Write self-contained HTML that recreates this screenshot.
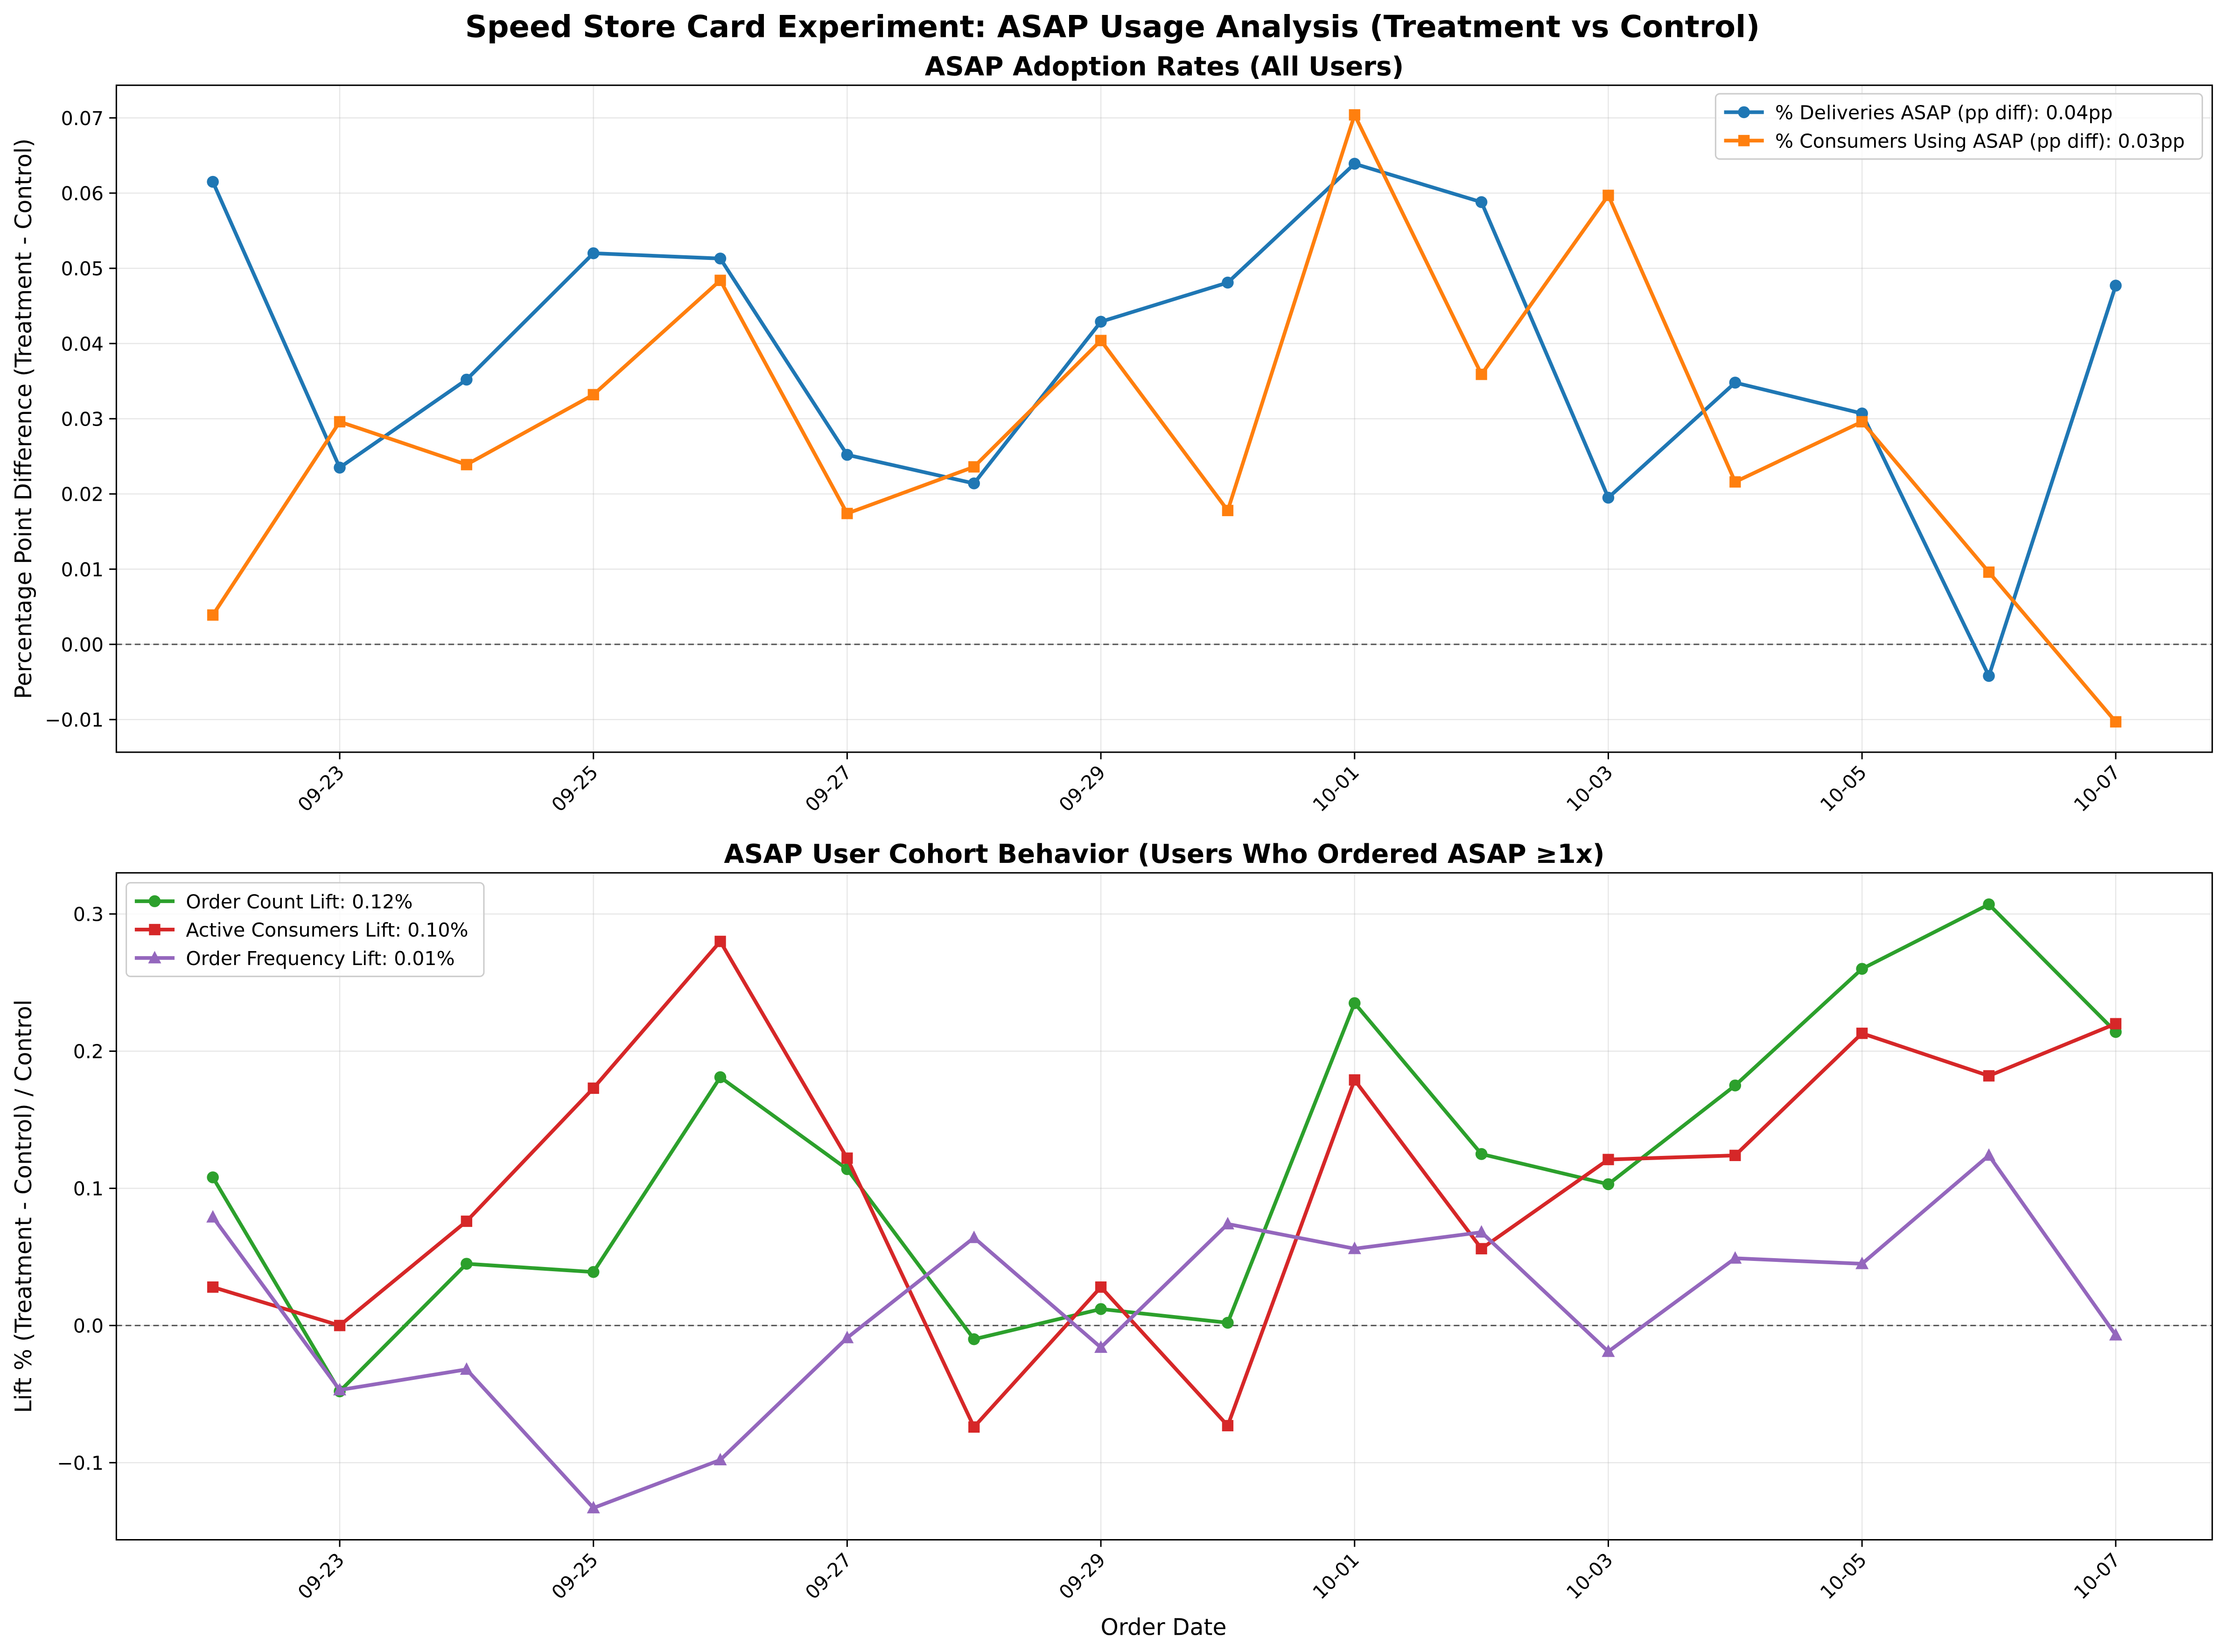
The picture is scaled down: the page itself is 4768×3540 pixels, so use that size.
<!DOCTYPE html>
<html><head><meta charset="utf-8"><style>
html,body{margin:0;padding:0;background:#fff;}
svg{display:block;font-family:"DejaVu Sans","Liberation Sans",sans-serif;}
</style></head><body>
<svg id="chart" width="4768" height="3540" viewBox="0 0 1568 1164" xmlns="http://www.w3.org/2000/svg">
<rect width="1568" height="1164" fill="#fff"/>
<text x="784" y="26" text-anchor="middle" font-size="21.5" font-weight="bold">Speed Store Card Experiment: ASAP Usage Analysis (Treatment vs Control)</text>
<g id="g"></g>
</svg>
<script>
const dates = ["09-22","09-23","09-24","09-25","09-26","09-27","09-28","09-29","09-30","10-01","10-02","10-03","10-04","10-05","10-06","10-07"];
const tickDates = ["09-23","09-25","09-27","09-29","10-01","10-03","10-05","10-07"];
const deliveriesAsap = [0.0615,0.0235,0.0352,0.052,0.0513,0.0252,0.0214,0.0429,0.0481,0.0639,0.0588,0.0195,0.0348,0.0307,-0.0042,0.0477];
const consumersAsap = [0.0039,0.0296,0.0239,0.0332,0.0484,0.0174,0.0236,0.0404,0.0178,0.0704,0.0359,0.0597,0.0216,0.0296,0.0096,-0.0103];
const orderCountLift = [0.108,-0.048,0.045,0.039,0.181,0.114,-0.010,0.012,0.002,0.235,0.125,0.103,0.175,0.260,0.307,0.214];
const activeConsumersLift = [0.028,0.000,0.076,0.173,0.280,0.122,-0.074,0.028,-0.073,0.179,0.056,0.121,0.124,0.213,0.182,0.220];
const orderFrequencyLift = [0.079,-0.047,-0.032,-0.133,-0.098,-0.009,0.064,-0.016,0.074,0.056,0.068,-0.019,0.049,0.045,0.124,-0.007];
const topTicks = [-0.01,0,0.01,0.02,0.03,0.04,0.05,0.06,0.07];
const topTickLabels = ["−0.01","0.00","0.01","0.02","0.03","0.04","0.05","0.06","0.07"];
const botTicks = [-0.1,0,0.1,0.2,0.3];
const botTickLabels = ["−0.1","0.0","0.1","0.2","0.3"];

const NS="http://www.w3.org/2000/svg";
const G=document.getElementById('g');
function el(tag,attrs,parent,txt){const e=document.createElementNS(NS,tag);for(const k in attrs)e.setAttribute(k,attrs[k]);if(txt!==undefined)e.textContent=txt;(parent||G).appendChild(e);return e;}
const L=82,R=1559;
const xOf=d=>150+dates.indexOf(d)*89.4;

function panel(cfg){
  const {top,bot,yv0,yp0,yv1,yp1,ticks,labels,series,title,ylabel,name}=cfg;
  const y=v=>yp0+(v-yv0)*(yp1-yp0)/(yv1-yv0);
  const g=el('g',{});
  
  
  const grid=el('g',{},g);
  
  
  tickDates.forEach(d=>{el('line',{x1:xOf(d),x2:xOf(d),y1:top,y2:bot,stroke:'#b0b0b0','stroke-opacity':0.3,'stroke-width':0.8},grid);});
  ticks.forEach(t=>{el('line',{x1:L,x2:R,y1:y(t),y2:y(t),stroke:'#b0b0b0','stroke-opacity':0.3,'stroke-width':0.8},grid);});
  const z=el('line',{x1:L,x2:R,y1:y(0),y2:y(0),stroke:'#555','stroke-width':1,'stroke-dasharray':'4,2.5'},g);
  
  
  const ya=el('g',{},g);
  
  
  ticks.forEach((t,i)=>{el('line',{x1:L-5,x2:L,y1:y(t),y2:y(t),stroke:'#000'},ya);el('text',{x:L-9,y:y(t)+5,'text-anchor':'end','font-size':13.5},ya,labels[i]);});
  const xa=el('g',{},g);
  
  
  tickDates.forEach(d=>{const x=xOf(d);el('line',{x1:x,x2:x,y1:bot,y2:bot+5,stroke:'#000'},xa);el('text',{x:x+4,y:bot+15,'text-anchor':'end','font-size':13.5,transform:`rotate(-45 ${x+4} ${bot+15})`},xa,d);});
  series.forEach(s=>{
    const sg=el('g',{},g);
    
    
    el('polyline',{points:s.data.map((v,i)=>`${xOf(dates[i])},${y(v)}`).join(' '),fill:'none',stroke:s.color,'stroke-width':2.6,'stroke-linejoin':'round'},sg);
    s.data.forEach((v,i)=>marker(sg,xOf(dates[i]),y(v),s.marker,s.color));
  });
  el('rect',{x:L,y:top,width:R-L,height:bot-top,fill:'none',stroke:'#000','stroke-width':1},g);
  const t=el('text',{x:(L+R)/2,y:top-7,'text-anchor':'middle','font-size':18.5,'font-weight':'bold'},g,title);
  
  
  const cy=(top+bot)/2;
  const yl=el('text',{x:22,y:cy,'text-anchor':'middle','font-size':16,transform:`rotate(-90 22 ${cy})`},g,ylabel);
  
  
  return g;
}
function marker(p,x,y,m,c){
  if(m==='o')el('circle',{cx:x,cy:y,r:4.2,fill:c},p);
  else if(m==='s')el('rect',{x:x-4,y:y-4,width:8,height:8,fill:c},p);
  else el('polygon',{points:`${x},${y-5} ${x-4.6},${y+3.8} ${x+4.6},${y+3.8}`,fill:c},p);
}
function legend(x,y,w,items){
  const g=el('g',{});
  
  
  el('rect',{x,y,width:w,height:items.length*20+6,rx:3,fill:'#fff','fill-opacity':0.8,stroke:'#ccc'},g);
  items.forEach((it,i)=>{
    const e=el('g',{},g);
    
    
    const cy=y+13+i*20;
    el('line',{x1:x+6,x2:x+34,y1:cy,y2:cy,stroke:it.color,'stroke-width':2.6},e);
    marker(e,x+20,cy,it.marker,it.color);
    el('text',{x:x+42,y:cy+5,'font-size':13.5},e,it.label);
  });
}
panel({name:'top-panel',top:60,bot:530,yv0:0,yp0:454,yv1:0.07,yp1:83,ticks:topTicks,labels:topTickLabels,
  title:'ASAP Adoption Rates (All Users)',ylabel:'Percentage Point Difference (Treatment - Control)',
  series:[{name:'series-deliveries-asap',data:deliveriesAsap,color:'#1f77b4',marker:'o'},{name:'series-consumers-asap',data:consumersAsap,color:'#ff7f0e',marker:'s'}]});
panel({name:'bottom-panel',top:615,bot:1085,yv0:0,yp0:934,yv1:0.3,yp1:644,ticks:botTicks,labels:botTickLabels,
  title:'ASAP User Cohort Behavior (Users Who Ordered ASAP ≥1x)',ylabel:'Lift % (Treatment - Control) / Control',
  series:[{name:'series-order-count-lift',data:orderCountLift,color:'#2ca02c',marker:'o'},{name:'series-active-consumers-lift',data:activeConsumersLift,color:'#d62728',marker:'s'},{name:'series-order-frequency-lift',data:orderFrequencyLift,color:'#9467bd',marker:'^'}]});
legend(1209,66,343,[{label:'% Deliveries ASAP (pp diff): 0.04pp',color:'#1f77b4',marker:'o'},{label:'% Consumers Using ASAP (pp diff): 0.03pp',color:'#ff7f0e',marker:'s'}]);
legend(89,622,252,[{label:'Order Count Lift: 0.12%',color:'#2ca02c',marker:'o'},{label:'Active Consumers Lift: 0.10%',color:'#d62728',marker:'s'},{label:'Order Frequency Lift: 0.01%',color:'#9467bd',marker:'^'}]);
const xl=el('text',{x:820,y:1152,'text-anchor':'middle','font-size':16},G,'Order Date');


</script>
</body></html>
